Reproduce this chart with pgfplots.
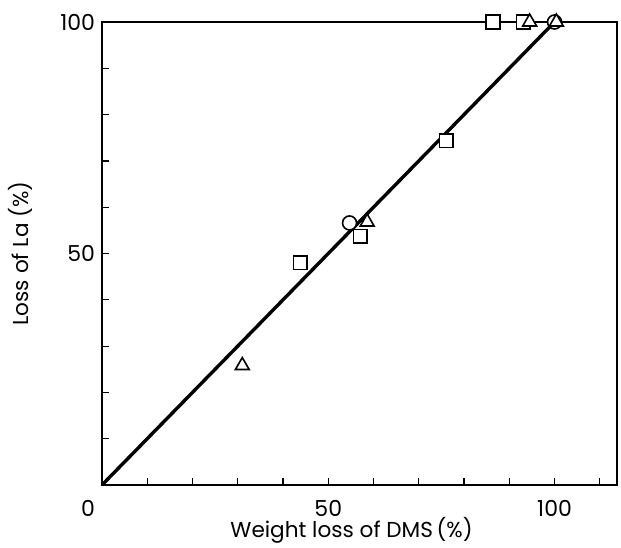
\documentclass[border=0pt]{standalone}
\usepackage{fontspec}
\setmainfont{Poppins}
\usepackage{pgfplots}
\pgfplotsset{compat=1.18}

\begin{document}
\begin{tikzpicture}
\begin{axis}[
    name=ax,
    scale only axis,
    width=257.5pt, height=231.5pt,
    xmin=0, xmax=113.8,
    ymin=0, ymax=100,
    xtick={50,100}, ytick={50,100},
    minor xtick={10,20,...,110},
    minor ytick={10,20,...,90},
    extra x ticks={0},
    extra x tick style={tick label style={xshift=-7pt}},
    xtick pos=left, ytick pos=left,
    tick align=inside,
    major tick length=3.5pt, minor tick length=3.5pt,
    every tick/.style={black, line width=0.6pt},
    axis line style={line width=0.8pt},
    /pgf/number format/assume math mode=true,
    tick label style={font=\fontsize{11}{13}\selectfont},
    label style={font=\fontsize{10.8}{13}\selectfont},
    xlabel={Weight loss of DMS\,(\%)},
    ylabel={Loss of La (\%)},
    xticklabel style={yshift=-4pt},
    xlabel style={at={(axis description cs:0.5,0)}, anchor=north, inner sep=0pt, yshift=-16pt, xshift=-4pt},
    ylabel style={yshift=7pt},
    clip=false,
]
% fitted line
\addplot[black, line width=1.7pt, no marks] coordinates {(0,0) (100,100)};
% squares
\addplot[only marks, mark=square*, mark size=3.4pt, mark options={fill=white, draw=black, line width=0.8pt}]
coordinates {(43.8,48.0) (57.1,53.7) (76.1,74.4) (86.4,100) (93.1,100)};
% circles
\addplot[only marks, mark=*, mark size=3.5pt, mark options={fill=white, draw=black, line width=0.8pt}]
coordinates {(54.7,56.6) (100,100)};
% triangles
\addplot[only marks, mark=triangle*, mark size=4pt, mark options={fill=white, draw=black, line width=0.8pt}]
coordinates {(31.0,25.8) (58.6,56.8) (94.5,100) (100.4,100)};
\end{axis}
\pgfresetboundingbox
\path ([shift={(-51pt,-31pt)}]ax.south west) rectangle ([shift={(2pt,11pt)}]ax.north east);
\end{tikzpicture}
\end{document}
